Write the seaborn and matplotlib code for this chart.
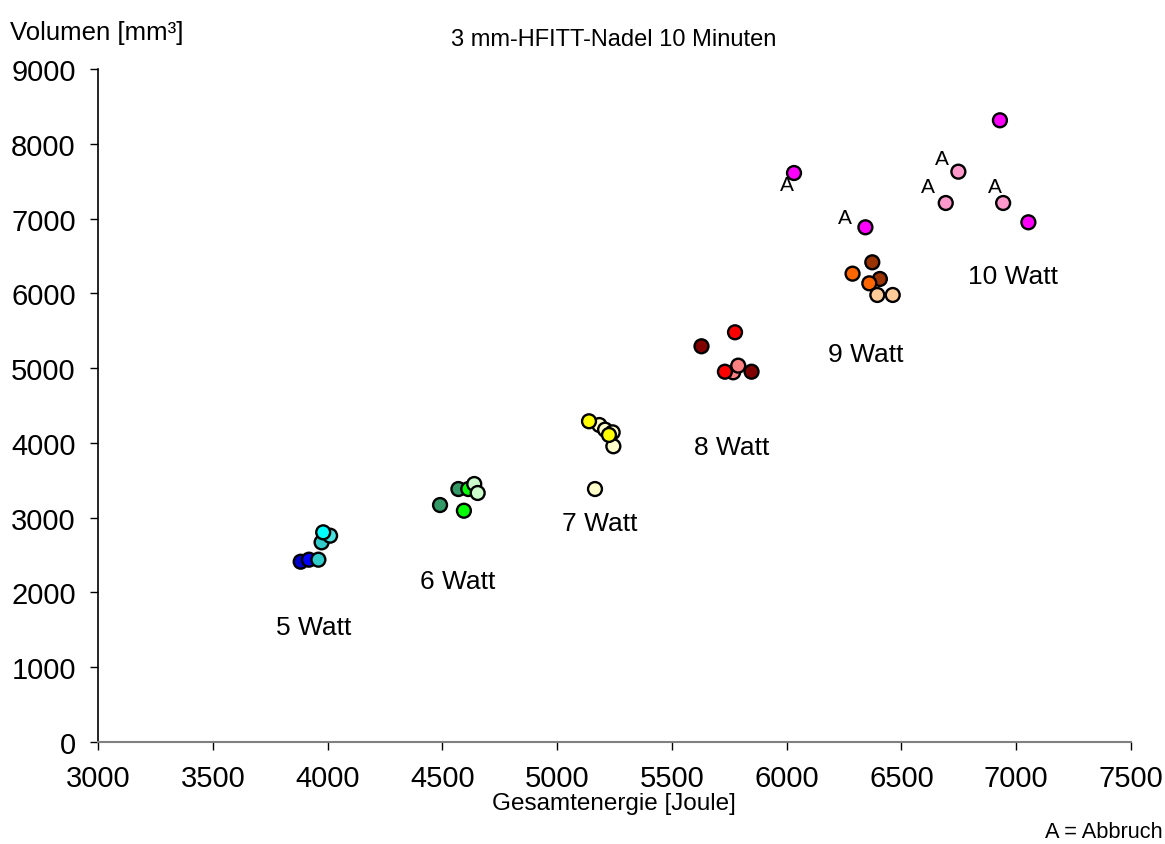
import matplotlib
matplotlib.use("Agg")
import matplotlib.pyplot as plt
import seaborn as sns
import pandas as pd

# ---- data ----
energy = [3883, 3919, 3960, 3974, 4011, 3981,
          4490, 4570, 4594, 4613, 4639, 4654,
          5184, 5209, 5242, 5245, 5165, 5139, 5226,
          5629, 5847, 5767, 5789, 5775, 5731,
          6373, 6406, 6287, 6360, 6395, 6462,
          6693, 6748, 6943, 6032, 6343, 6929, 7053]
volume = [2411, 2438, 2438, 2670, 2759, 2804,
          3169, 3383, 3093, 3383, 3450, 3330,
          4239, 4177, 4141, 3955, 3383, 4289, 4106,
          5292, 4952, 4944, 5033, 5479, 4952,
          6415, 6192, 6263, 6134, 5978, 5978,
          7208, 7627, 7208, 7609, 6883, 8314, 6950]
series = ["5a", "5b", "5c", "5c", "5e", "5d",
          "6a", "6a", "6b", "6b", "6c", "6c",
          "7b", "7b", "7b", "7b", "7b", "7a", "7a",
          "8a", "8a", "8c", "8c", "8b", "8b",
          "9a", "9a", "9b", "9b", "9c", "9c",
          "10b", "10b", "10b", "10a", "10a", "10a", "10a"]
abbruch = [False] * 31 + [True, True, True, True, True, False, False]

series_colors = {
    "5a": "#0000CC", "5b": "#0000FF", "5c": "#33CCCC", "5d": "#00FFFF", "5e": "#4DE0E0",
    "6a": "#339966", "6b": "#00FF00", "6c": "#CCFFCC",
    "7a": "#FFFF00", "7b": "#FFFFCC",
    "8a": "#800000", "8b": "#FF0000", "8c": "#FF8080",
    "9a": "#993300", "9b": "#FF6600", "9c": "#FFCC99",
    "10a": "#FF00FF", "10b": "#FF99CC",
}

watt_labels = ["5 Watt", "6 Watt", "7 Watt", "8 Watt", "9 Watt", "10 Watt"]
watt_label_x = [3941, 4568, 5187, 5762, 6346, 6986]
watt_label_y = [1538, 2153, 2929, 3945, 5189, 6232]

x_ticks = [3000, 3500, 4000, 4500, 5000, 5500, 6000, 6500, 7000, 7500]
y_ticks = [0, 1000, 2000, 3000, 4000, 5000, 6000, 7000, 8000, 9000]

# label offsets (points) for the "A" markers, in order of abbruch points
a_offsets = [(-13, 12), (-12, 9.6), (-6, 12), (-5.3, -8.6), (-14.6, 7.2)]

# ---- plot ----
sns.set_theme(style="white")
plt.rcParams["font.family"] = ["Liberation Sans", "DejaVu Sans"]
plt.rcParams["text.color"] = "black"

df = pd.DataFrame({"E": energy, "V": volume, "series": series, "A": abbruch})

fig = plt.figure(figsize=(11.65, 8.45), dpi=100)
ax = fig.add_axes([98 / 1165, 1 - 743 / 845, (1131 - 98) / 1165, (743 - 70) / 845])

sns.scatterplot(data=df, x="E", y="V", hue="series", palette=series_colors,
                hue_order=list(series_colors.keys()), legend=False,
                s=100, edgecolor="black", linewidth=1.7, ax=ax, zorder=3)

ab = df[df["A"]].reset_index(drop=True)
for i, row in ab.iterrows():
    ax.annotate("A", xy=(row["E"], row["V"]), xytext=a_offsets[i],
                textcoords="offset points", fontsize=15, color="black",
                ha="center", va="center")

for lab, lx, ly in zip(watt_labels, watt_label_x, watt_label_y):
    ax.text(lx, ly, lab, fontsize=19, ha="center", va="center", color="black")

ax.set_xlim(3000, 7500)
ax.set_ylim(0, 9000)
ax.set_xticks(x_ticks)
ax.set_yticks(y_ticks)
ax.tick_params(axis="both", labelsize=21, length=6, width=1, direction="out",
               colors="black", pad=10, bottom=True, left=True)
ax.set_xlabel("")
ax.set_ylabel("")
for s in ["top", "right"]:
    ax.spines[s].set_visible(False)
ax.spines["left"].set_color("black")
ax.spines["left"].set_linewidth(1.2)
ax.spines["bottom"].set_color("#808080")
ax.spines["bottom"].set_linewidth(1.5)

fig.text(614 / 1165, 1 - 40 / 845, "3 mm-HFITT-Nadel 10 Minuten", fontsize=17,
         ha="center", va="center", color="black")
fig.text(10 / 1165, 1 - 33 / 845, "Volumen [mm³]", fontsize=18.5, ha="left",
         va="center", color="black")
fig.text(614 / 1165, 1 - 804 / 845, "Gesamtenergie [Joule]", fontsize=17.5,
         ha="center", va="center", color="black")
fig.text(1163 / 1165, 1 - 833 / 845, "A = Abbruch", fontsize=15.7, ha="right",
         va="center", color="black")

fig.savefig("out.png", dpi=100)
